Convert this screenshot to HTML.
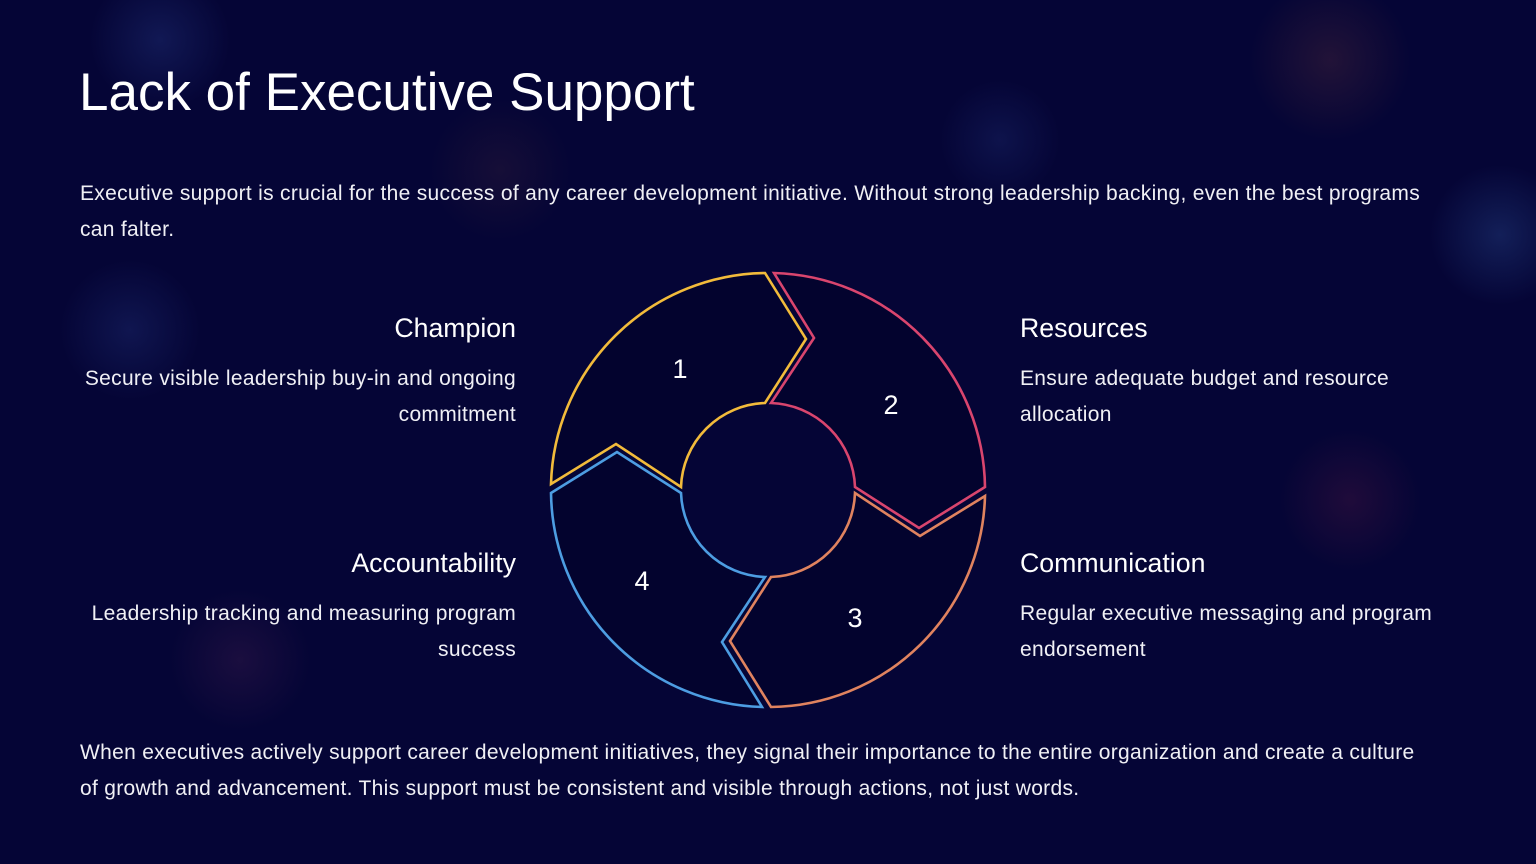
<!DOCTYPE html>
<html><head><meta charset="utf-8"><style>
html,body{margin:0;padding:0}
body{width:1536px;height:864px;overflow:hidden;position:relative;font-family:"Liberation Sans",sans-serif;color:#fff;
background:
radial-gradient(circle at 160px 40px,rgba(40,60,140,.35),transparent 70px),
radial-gradient(circle at 1330px 60px,rgba(120,60,60,.25),transparent 80px),
radial-gradient(circle at 1500px 235px,rgba(40,70,140,.4),transparent 70px),
radial-gradient(circle at 130px 330px,rgba(40,60,140,.3),transparent 70px),
radial-gradient(circle at 1350px 500px,rgba(110,30,70,.25),transparent 70px),
radial-gradient(circle at 240px 660px,rgba(90,40,90,.25),transparent 70px),
radial-gradient(circle at 500px 170px,rgba(90,50,60,.2),transparent 70px),
radial-gradient(circle at 1000px 140px,rgba(40,60,140,.25),transparent 60px),
#050536;}
.t{position:absolute;white-space:nowrap}
h1{position:absolute;left:79px;top:62px;margin:0;font-weight:normal;font-size:53px;white-space:nowrap}
.p{font-size:21px;letter-spacing:0.3px;line-height:36px;color:#f0f0f5}
.h{font-size:26.7px;line-height:32px}
.r{text-align:right}
</style></head><body>
<h1>Lack of Executive Support</h1>
<div class="t p" style="left:80px;top:176px">Executive support is crucial for the success of any career development initiative. Without strong leadership backing, even the best programs<br>can falter.</div>

<div class="t h r" style="right:1020px;top:312px">Champion</div>
<div class="t p r" style="right:1020px;top:361px">Secure visible leadership buy-in and ongoing<br>commitment</div>
<div class="t h r" style="right:1020px;top:547px">Accountability</div>
<div class="t p r" style="right:1020px;top:596px">Leadership tracking and measuring program<br>success</div>

<div class="t h" style="left:1020px;top:312px">Resources</div>
<div class="t p" style="left:1020px;top:361px">Ensure adequate budget and resource<br>allocation</div>
<div class="t h" style="left:1020px;top:547px">Communication</div>
<div class="t p" style="left:1020px;top:596px">Regular executive messaging and program<br>endorsement</div>

<div class="t p" style="left:80px;top:735px">When executives actively support career development initiatives, they signal their importance to the entire organization and create a culture<br>of growth and advancement. This support must be consistent and visible through actions, not just words.</div>

<svg style="position:absolute;left:0;top:0" width="1536" height="864">
<defs><path id="seg" d="M -217,-6 A 217 217 0 0 1 -3,-217 L 38,-151 L -3,-87 A 87 87 0 0 0 -87,-3 L -152,-46 Z" fill="#03032e" stroke-width="2.6" stroke-linejoin="miter"/></defs>
<g transform="translate(768,490)">
<use href="#seg" stroke="#f2bb3b"/>
<use href="#seg" stroke="#d9456e" transform="rotate(90)"/>
<use href="#seg" stroke="#e0835f" transform="rotate(180)"/>
<use href="#seg" stroke="#4d9de2" transform="rotate(270)"/>
</g>
<g font-family="Liberation Sans, sans-serif" font-size="27" fill="#fff" text-anchor="middle">
<text x="680" y="378">1</text>
<text x="891" y="414">2</text>
<text x="855" y="627">3</text>
<text x="642" y="590">4</text>
</g>
</svg>
</body></html>
